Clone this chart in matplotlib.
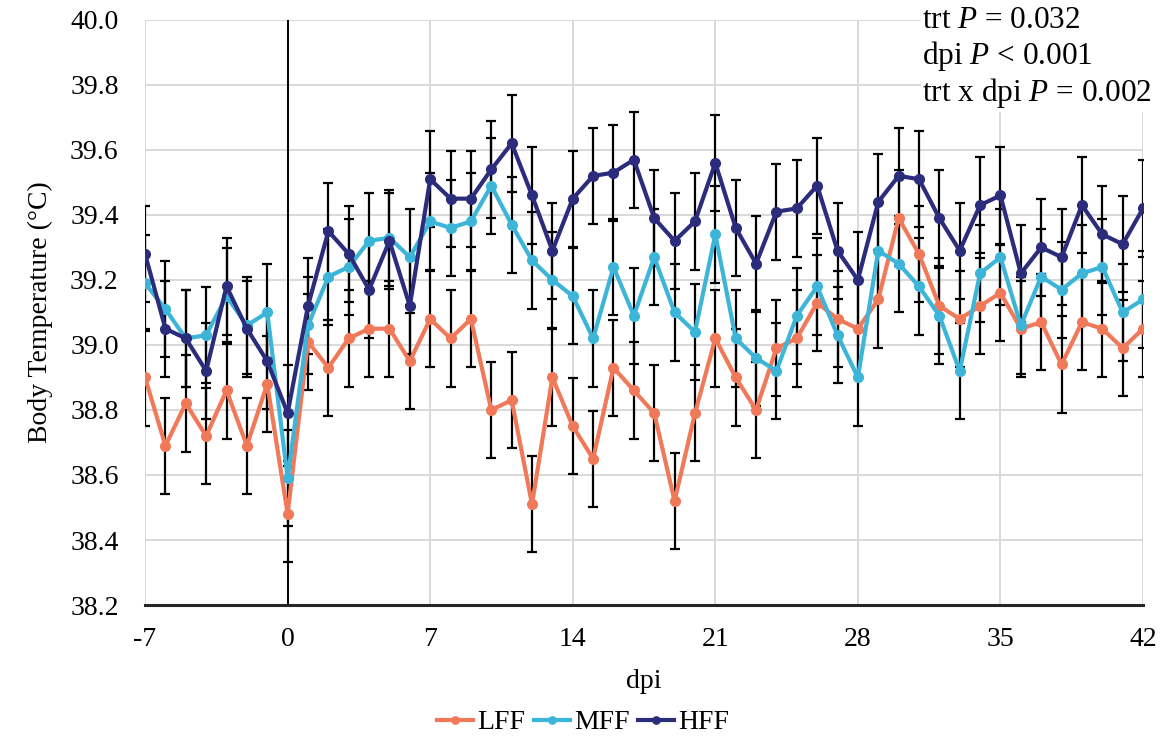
import numpy as np
import matplotlib
matplotlib.use("Agg")
import matplotlib.pyplot as plt

plt.rcParams['font.family'] = ['Liberation Serif', 'DejaVu Serif']
plt.rcParams['mathtext.fontset'] = 'custom'
plt.rcParams['mathtext.it'] = 'Liberation Serif:italic'
plt.rcParams['mathtext.rm'] = 'Liberation Serif'
plt.rcParams['axes.unicode_minus'] = False

dpi_days = list(range(-7, 43))

lff = [38.90, 38.69, 38.82, 38.72, 38.86, 38.69, 38.88, 38.48,
       39.01, 38.93, 39.02, 39.05, 39.05, 38.95, 39.08, 39.02, 39.08,
       38.80, 38.83, 38.51, 38.90, 38.75, 38.65, 38.93, 38.86, 38.79,
       38.52, 38.79, 39.02, 38.90, 38.80, 38.99, 39.02, 39.13, 39.08,
       39.05, 39.14, 39.39, 39.28, 39.12, 39.08, 39.12, 39.16, 39.05,
       39.07, 38.94, 39.07, 39.05, 38.99, 39.05]
mff = [39.19, 39.11, 39.02, 39.03, 39.15, 39.06, 39.10, 38.59,
       39.06, 39.21, 39.24, 39.32, 39.33, 39.27, 39.38, 39.36, 39.38,
       39.49, 39.37, 39.26, 39.20, 39.15, 39.02, 39.24, 39.09, 39.27,
       39.10, 39.04, 39.34, 39.02, 38.96, 38.92, 39.09, 39.18, 39.03,
       38.90, 39.29, 39.25, 39.18, 39.09, 38.92, 39.22, 39.27, 39.06,
       39.21, 39.17, 39.22, 39.24, 39.10, 39.14]
hff = [39.28, 39.05, 39.02, 38.92, 39.18, 39.05, 38.95, 38.79,
       39.12, 39.35, 39.28, 39.17, 39.32, 39.12, 39.51, 39.45, 39.45,
       39.54, 39.62, 39.46, 39.29, 39.45, 39.52, 39.53, 39.57, 39.39,
       39.32, 39.38, 39.56, 39.36, 39.25, 39.41, 39.42, 39.49, 39.29,
       39.20, 39.44, 39.52, 39.51, 39.39, 39.29, 39.43, 39.46, 39.22,
       39.30, 39.27, 39.43, 39.34, 39.31, 39.42]
sem = 0.148

groups = ['LFF', 'MFF', 'HFF']
colors = ['#F0795A', '#3DB5D8', '#2B2D7C']
series = [lff, mff, hff]

fig = plt.figure(figsize=(11.66, 7.44), dpi=100)
ax = fig.add_axes([0.1244, 0.1868, 0.8559, 0.7865])

for vals, col, name in zip(series, colors, groups):
    ax.errorbar(dpi_days, vals, yerr=sem, fmt='none', ecolor='black',
                elinewidth=1.6, capsize=3.5, capthick=1.6, zorder=2)
    ax.plot(dpi_days, vals, color=col, lw=3, marker='o', ms=7,
            label=name, zorder=3)

ax.axvline(0, color='black', lw=1.4, zorder=2.5)

ax.set_xlim(-7, 42)
ax.set_ylim(38.2, 40.0)
ax.set_xticks(np.arange(-7, 43, 7))
ax.set_yticks(np.arange(38.2, 40.01, 0.2))
ax.set_yticklabels([f"{v:.1f}" for v in np.arange(38.2, 40.01, 0.2)])
ax.grid(True, color='#D9D9D9', lw=1.4, zorder=0)
ax.set_axisbelow(True)
for s in ['top', 'right', 'left']:
    ax.spines[s].set_visible(False)
ax.spines['bottom'].set_color('#262626')
ax.spines['bottom'].set_linewidth(2.2)
ax.tick_params(axis='y', length=0, labelsize=20, pad=19)
ax.tick_params(axis='x', length=0, labelsize=20, pad=16)

ax.set_xlabel('dpi', fontsize=20, labelpad=12)
ax.set_ylabel('Body Temperature (\u00b0C)', fontsize=20, labelpad=12)

ax.text(0.7786, 1.024,
        'trt $P$ = 0.032\ndpi $P$ < 0.001\ntrt x dpi $P$ = 0.002',
        transform=ax.transAxes, ha='left', va='top', fontsize=22.5,
        linespacing=1.15, zorder=5,
        bbox=dict(facecolor='white', edgecolor='none', pad=1))

fig.legend(loc='lower center', bbox_to_anchor=(0.5, -0.022), ncol=3,
           frameon=False, fontsize=20, handlelength=1.3, handletextpad=0.15,
           columnspacing=0.3, markerscale=0.75)

fig.savefig('out.png', dpi=100)
